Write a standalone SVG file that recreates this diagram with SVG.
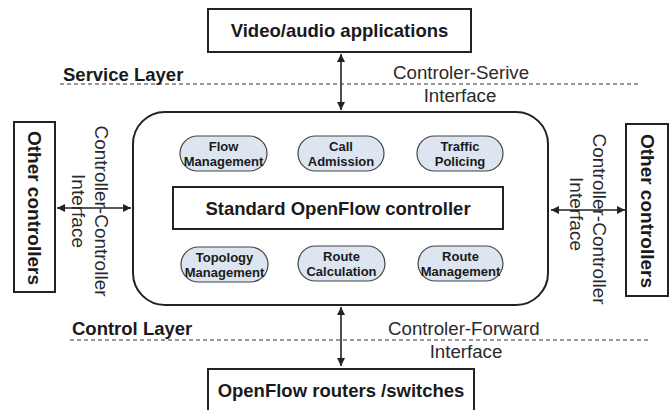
<svg xmlns="http://www.w3.org/2000/svg" width="671" height="410" viewBox="0 0 671 410">
<defs>
<marker id="ah" viewBox="0 0 10 10" refX="10" refY="5" markerWidth="9" markerHeight="8" markerUnits="userSpaceOnUse" orient="auto-start-reverse">
<path d="M0,0 L10,5 L0,10 z" fill="#222"/>
</marker>
<style>
.box{fill:#fff;stroke:#222;stroke-width:2}
.pill{fill:#dce5f0;stroke:#444;stroke-width:1.2}
.bt{font-family:"Liberation Sans",Arial,sans-serif;font-weight:bold;fill:#1a1a1a}
.rt{font-family:"Liberation Sans",Arial,sans-serif;fill:#2a2a2a}
.big{font-size:18.5px}
.pt{font-size:13px;text-anchor:middle}
.lay{font-size:18.5px}
.lbl{font-size:18.7px}
.vl{font-size:19px;text-anchor:middle}
.con{stroke:#222;stroke-width:1.6;fill:none}
.dash{stroke:#333;stroke-width:1.2;stroke-dasharray:4 3;fill:none}
</style>
</defs>

<g id="connectors">
<line class="con" x1="341" y1="54" x2="341" y2="110" marker-start="url(#ah)" marker-end="url(#ah)"/>
<line class="con" x1="341" y1="307" x2="341" y2="366" marker-start="url(#ah)" marker-end="url(#ah)"/>
<line class="con" x1="57" y1="208" x2="131" y2="208" marker-start="url(#ah)" marker-end="url(#ah)"/>
<line class="con" x1="551" y1="210" x2="625" y2="210" marker-start="url(#ah)" marker-end="url(#ah)"/>
</g>

<g id="layers">
<line class="dash" x1="60" y1="84" x2="640" y2="84"/>
<line class="dash" x1="70" y1="340" x2="648" y2="340"/>
<text class="bt lay" x="63" y="81">Service Layer</text>
<text class="bt lay" x="72" y="335">Control Layer</text>
<text class="rt lbl" x="393" y="79">Controler-Serive</text>
<text class="rt lbl" x="460" y="102" text-anchor="middle">Interface</text>
<text class="rt lbl" x="388" y="335">Controler-Forward</text>
<text class="rt lbl" x="466" y="358" text-anchor="middle">Interface</text>
<g transform="translate(95,211) rotate(90)">
<text class="rt vl" x="0" y="0">Controller-Controller</text>
<text class="rt vl" x="0" y="23">Interface</text>
</g>
<g transform="translate(593,219) rotate(90)">
<text class="rt vl" x="0" y="0">Controller-Controller</text>
<text class="rt vl" x="-5" y="23">Interface</text>
</g>
</g>

<g id="apps">
<rect class="box" x="208" y="9" width="263" height="43"/>
<text class="bt big" x="339.5" y="37" text-anchor="middle">Video/audio applications</text>
</g>

<g id="controller">
<rect class="box" x="133" y="112" width="415" height="193" rx="32" ry="32"/>
</g>

<g id="standard">
<rect class="box" x="173" y="187" width="330" height="42"/>
<text class="bt big" x="338" y="215" text-anchor="middle">Standard OpenFlow controller</text>
</g>

<g id="flow-mgmt">
<rect class="pill" x="180" y="136" width="87" height="35" rx="17.5"/>
<text class="bt pt" x="223.5" y="151">Flow</text>
<text class="bt pt" x="223.5" y="166">Management</text>
</g>
<g id="call-adm">
<rect class="pill" x="298" y="136" width="86" height="35" rx="17.5"/>
<text class="bt pt" x="341" y="151">Call</text>
<text class="bt pt" x="341" y="166">Admission</text>
</g>
<g id="traffic">
<rect class="pill" x="417" y="136" width="86" height="35" rx="17.5"/>
<text class="bt pt" x="460" y="151">Traffic</text>
<text class="bt pt" x="460" y="166">Policing</text>
</g>
<g id="topology">
<rect class="pill" x="181" y="247" width="87" height="35" rx="17.5"/>
<text class="bt pt" x="224.5" y="262">Topology</text>
<text class="bt pt" x="224.5" y="277">Management</text>
</g>
<g id="route-calc">
<rect class="pill" x="298" y="246" width="87" height="35" rx="17.5"/>
<text class="bt pt" x="341.5" y="261">Route</text>
<text class="bt pt" x="341.5" y="276">Calculation</text>
</g>
<g id="route-mgmt">
<rect class="pill" x="418" y="246" width="85" height="35" rx="17.5"/>
<text class="bt pt" x="460.5" y="261">Route</text>
<text class="bt pt" x="460.5" y="276">Management</text>
</g>

<g id="other-left">
<rect class="box" x="14" y="122" width="41" height="170"/>
<text class="bt vl" transform="translate(28,208) rotate(90)" x="0" y="0">Other controllers</text>
</g>
<g id="other-right">
<rect class="box" x="626" y="124" width="42" height="172"/>
<text class="bt vl" transform="translate(641,211) rotate(90)" x="0" y="0">Other controllers</text>
</g>

<g id="switches">
<rect class="box" x="208" y="369" width="266" height="45"/>
<text class="bt big" x="341" y="397" text-anchor="middle">OpenFlow routers /switches</text>
</g>
</svg>
